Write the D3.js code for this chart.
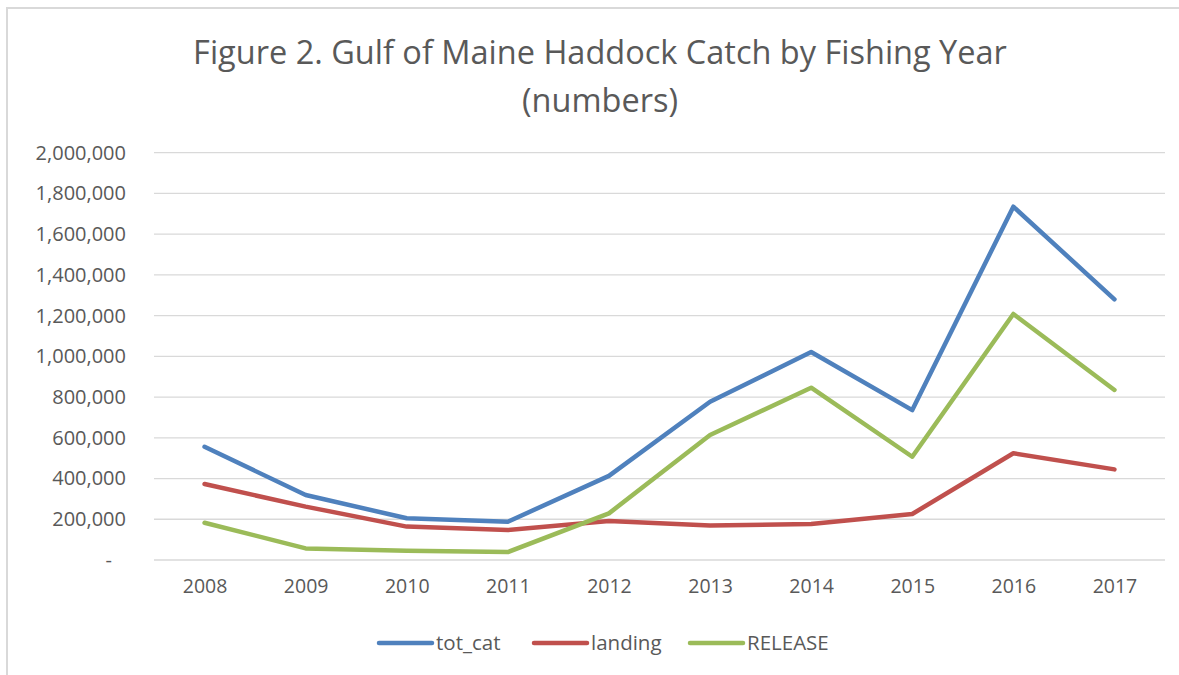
<!DOCTYPE html>
<html>
<head>
<meta charset="utf-8">
<script src="https://cdn.jsdelivr.net/npm/d3@7"></script>
<style>
  html, body { margin: 0; padding: 0; background: #fff; }
  svg { display: block; }
  text { font-family: "Open Sans", "Noto Sans", sans-serif; fill: #595959; }
</style>
</head>
<body>
<svg id="chart" width="1179" height="675"></svg>
<script>
const years = ["2008","2009","2010","2011","2012","2013","2014","2015","2016","2017"];
const totCat = [556000, 319000, 205000, 188000, 413000, 777000, 1021000, 736000, 1735000, 1280000];
const landing = [373000, 262000, 164000, 147000, 191000, 169000, 177000, 226000, 524000, 445000];
const release = [183000, 57000, 46000, 39000, 229000, 614000, 846000, 507000, 1208000, 835000];
const seriesNames = ["tot_cat", "landing", "RELEASE"];
const seriesColors = ["#4f81bd", "#c0504d", "#9bbb59"];
const yTicks = [0, 200000, 400000, 600000, 800000, 1000000, 1200000, 1400000, 1600000, 1800000, 2000000];
const titleLines = ["Figure 2. Gulf of Maine Haddock Catch by Fishing Year", "(numbers)"];

(function () {
const svg = d3.select("#chart");
const W = 1179, H = 675;

svg.append("rect").attr("x", 7).attr("y", 8).attr("width", W + 10).attr("height", H + 10)
  .attr("fill", "none").attr("stroke", "#d9d9d9").attr("stroke-width", 2);

const pLeft = 154, pRight = 1165, pTop = 152.7, pBottom = 560;

const x = d3.scalePoint().domain(years).range([pLeft, pRight]).padding(0.5);
const y = d3.scaleLinear().domain([0, 2000000]).range([pBottom, pTop]);

svg.append("g").selectAll("line").data(yTicks).join("line")
  .attr("x1", pLeft).attr("x2", pRight)
  .attr("y1", d => y(d)).attr("y2", d => y(d))
  .attr("stroke", "#d9d9d9").attr("stroke-width", 1.3);

const fmt = d3.format(",");
const yAxis = d3.axisLeft(y).tickValues(yTicks).tickSize(0).tickPadding(0)
  .tickFormat(d => d === 0 ? "-" : fmt(d));
const gy = svg.append("g").attr("transform", "translate(126,0)").call(yAxis);
gy.select(".domain").remove();
gy.selectAll("text").attr("font-size", 20).attr("fill", "#595959")
  .attr("font-family", "'Open Sans', sans-serif")
  .attr("dx", d => d === 0 ? -14 : 0);

const xAxis = d3.axisBottom(x).tickSize(0).tickPadding(0);
const gx = svg.append("g").attr("transform", "translate(0,579)").call(xAxis);
gx.select(".domain").remove();
gx.selectAll("text").attr("font-size", 19.5).attr("fill", "#595959")
  .attr("font-family", "'Open Sans', sans-serif");

const allSeries = [totCat, landing, release];
const line = d3.line().x((d, i) => x(years[i])).y(d => y(d));
svg.append("g").selectAll("path").data(allSeries).join("path")
  .attr("d", d => line(d))
  .attr("fill", "none")
  .attr("stroke", (d, i) => seriesColors[i])
  .attr("stroke-width", 4.5)
  .attr("stroke-linejoin", "round")
  .attr("stroke-linecap", "round");

svg.append("g").selectAll("text").data(titleLines).join("text")
  .attr("x", 600).attr("y", (d, i) => 64 + i * 48)
  .attr("text-anchor", "middle")
  .attr("font-size", 32.5)
  .attr("fill", "#595959")
  .text(d => d);

const legendX = [378, 533, 689];
const lg = svg.append("g").selectAll("g").data(seriesNames).join("g")
  .attr("transform", (d, i) => `translate(${legendX[i]},643)`);
lg.append("line").attr("x1", 1).attr("x2", 54).attr("y1", 0).attr("y2", 0)
  .attr("stroke", (d, i) => seriesColors[i]).attr("stroke-width", 4.5).attr("stroke-linecap", "round");
lg.append("text").attr("x", 58).attr("y", 7).attr("font-size", 20.5).attr("fill", "#595959").text(d => d);
})();
</script>
</body>
</html>
